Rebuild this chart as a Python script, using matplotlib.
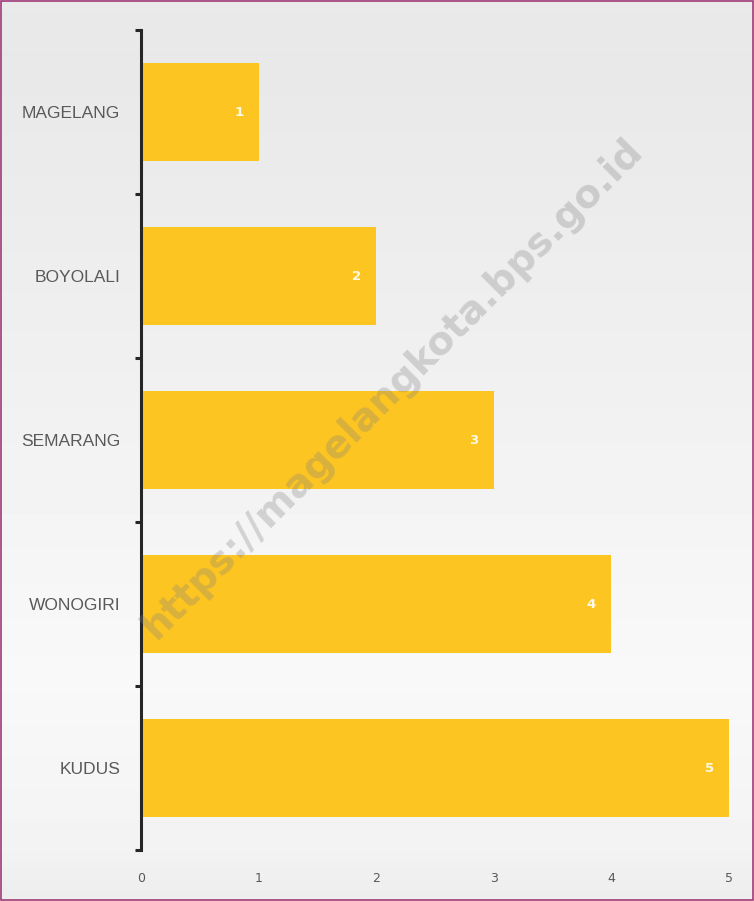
import numpy as np
import matplotlib
matplotlib.use('Agg')
import matplotlib.pyplot as plt
from matplotlib.patches import Rectangle

# ── Data ──────────────────────────────────────────────
CITIES = ['MAGELANG', 'BOYOLALI', 'SEMARANG', 'WONOGIRI', 'KUDUS']
VALUES = [1, 2, 3, 4, 5]
XTICKS = [0, 1, 2, 3, 4, 5]

BAR_COLOR = '#fdc521'
TEXT_GRAY = '#595959'

fig = plt.figure(figsize=(7.54, 9.01), dpi=100)

# ── Background gradient ───────────────────────────────
bg = fig.add_axes([0, 0, 1, 1], zorder=-10)
rows = np.linspace(0, 1, 256)
shade = np.interp(rows, [0.0, 0.06, 0.45, 0.75, 0.93, 1.0],
                  [0.915, 0.91, 0.945, 0.975, 0.955, 0.93])
bg.imshow(shade[:, None], cmap='gray', vmin=0, vmax=1, aspect='auto',
          extent=[0, 1, 0, 1], origin='upper')
bg.set_xlim(0, 1)
bg.set_ylim(0, 1)
bg.axis('off')
bg.add_patch(Rectangle((0.001, 0.001), 0.998, 0.998, fill=False,
                       edgecolor='#a03a78', linewidth=1.2,
                       transform=bg.transAxes))

# ── Bar chart ─────────────────────────────────────────
ax = fig.add_axes([0.187, 0.0566, 0.780, 0.9101])
ax.patch.set_alpha(0)
y = np.arange(len(CITIES))
ax.barh(y, VALUES, height=0.6, color=BAR_COLOR, edgecolor='none')
ax.set_ylim(len(CITIES) - 0.5, -0.5)
ax.set_xlim(0, 5)

for yi, v in zip(y, VALUES):
    ax.text(v - 0.17, yi, str(v), color='white', fontsize=9.5,
            fontweight='bold', alpha=0.9, ha='center', va='center')

for s in ['top', 'right', 'bottom']:
    ax.spines[s].set_visible(False)
ax.spines['left'].set_color('#262626')
ax.spines['left'].set_linewidth(2.2)

ax.set_yticks(y)
ax.set_yticklabels(CITIES, fontsize=12.5, color=TEXT_GRAY, family='Liberation Sans')
ax.tick_params(axis='y', length=0, pad=15)
ax.set_yticks(np.arange(len(CITIES) + 1) - 0.5, minor=True)
ax.tick_params(axis='y', which='minor', length=4, width=2.2, color='#262626')

ax.set_xticks(XTICKS)
ax.set_xticklabels([str(t) for t in XTICKS], fontsize=9, color=TEXT_GRAY)
ax.tick_params(axis='x', length=0, pad=16)

# ── Watermark ─────────────────────────────────────────
fig.text(0.52, 0.569, 'https://magelangkota.bps.go.id', fontsize=28,
         fontweight='bold', color='#808080', alpha=0.3, rotation=45,
         ha='center', va='center', zorder=20)

plt.savefig('out.png', dpi=100)
plt.close()
